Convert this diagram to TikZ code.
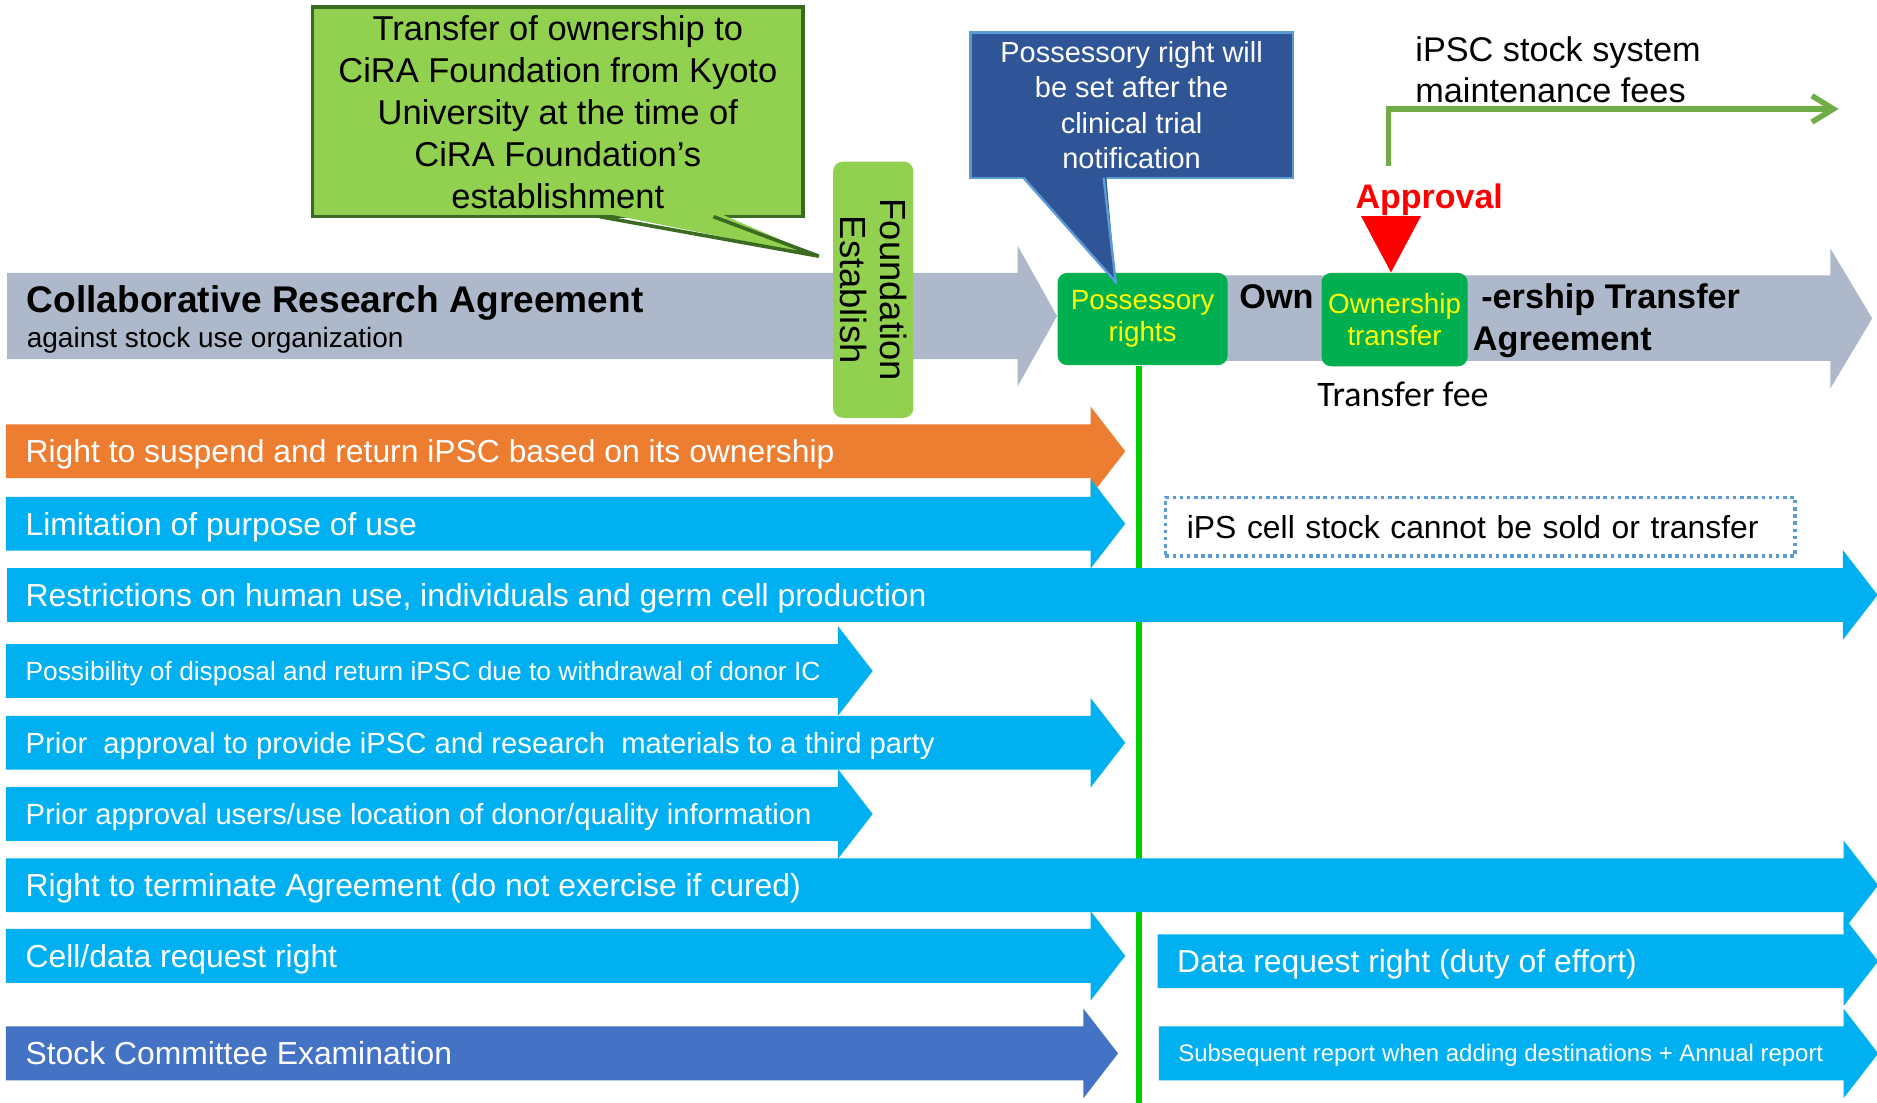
\documentclass[tikz,border=0pt]{standalone}
\usepackage{fontspec}
\setmainfont{Liberation Sans}
\newfontfamily\calibrifont{Carlito}
\usepackage{xcolor}
\usepackage{tikz}
\usetikzlibrary{arrows.meta}

\definecolor{agreegray}{HTML}{ADB9CA}
\definecolor{leafgreen}{HTML}{92D050}
\definecolor{leafdark}{HTML}{3B6B21}
\definecolor{boxgreen}{HTML}{00B050}
\definecolor{boxtext}{HTML}{FFFF00}
\definecolor{navyfill}{HTML}{2F5597}
\definecolor{navyedge}{HTML}{5B9BD5}
\definecolor{orangearr}{HTML}{ED7D31}
\definecolor{cyanarr}{HTML}{00B0F0}
\definecolor{stockblue}{HTML}{4472C4}
\definecolor{linegreen}{HTML}{00CC00}
\definecolor{feegreen}{HTML}{70AD47}
\definecolor{dotblue}{HTML}{5B9BD5}

% block arrow: colour, x start, x of head base, y centre
\newcommand{\blockarrow}[4]{%
  \fill[#1] (#2,#4-22.5) -- (#3,#4-22.5) -- (#3,#4-37.5) -- (#3+29,#4)
    -- (#3,#4+37.5) -- (#3,#4+22.5) -- (#2,#4+22.5) -- cycle;}

\begin{document}
\begin{tikzpicture}[x=0.5pt, y=-0.5pt,
  rowtxt/.style={anchor=base west, inner sep=0pt, text=white, font=\fontsize{13.3}{16}\selectfont},
  gbox/.style={fill=boxgreen, rounded corners=4pt, text=boxtext, align=center, inner sep=0pt,
    font=\fontsize{11.6}{13.5}\selectfont},
  boldtxt/.style={anchor=base west, inner sep=0pt, font=\bfseries\fontsize{14.3}{17}\selectfont}]
\useasboundingbox (0,0) rectangle (1568,921);

% agreement arrows
\fill[agreegray] (6,228) -- (850,228) -- (850,205) -- (883,264) -- (850,323) -- (850,300) -- (6,300) -- cycle;
\fill[agreegray] (940,230) -- (1529,230) -- (1529,207.5) -- (1564,266) -- (1529,324.5) -- (1529,301.5) -- (940,301.5) -- cycle;
\node[anchor=base west, inner sep=0pt, font=\bfseries\fontsize{15.5}{18}\selectfont] (collab) at (22,261) {Collaborative Research Agreement};
\node[anchor=base west, inner sep=0pt, font=\fontsize{11.7}{14}\selectfont] (against) at (22,290) {against stock use organization};

\node[fill=leafgreen, rounded corners=4pt, rotate=-90, minimum width=107pt, minimum height=33.5pt,
  align=center, inner sep=0pt, font=\fontsize{15.2}{16.5}\selectfont] (found) at (729.5,242) {Foundation\\Establish};

% callout over the foundation
\node[draw=leafdark, line width=1.5pt, fill=leafgreen, minimum width=205pt, minimum height=87.5pt,
  align=center, inner sep=0pt, font=\fontsize{14.4}{17.5}\selectfont] (handover) at (466,93.5)
  {Transfer of ownership to\\CiRA Foundation from Kyoto\\University at the time of\\CiRA Foundation’s\\establishment};
\fill[leafgreen] (499,177) -- (684,214) -- (598,177) -- cycle;
\draw[leafdark, line width=1.5pt] (501,181) -- (684,214) -- (596,181);

\node[gbox, minimum width=71pt, minimum height=38.5pt] (poss) at (954.5,266.5) {Possessory\\rights};
\node[gbox, minimum width=61pt, minimum height=39pt] (own) at (1165,267) {Ownership\\transfer};

% callout over possessory rights
\node[draw=navyedge, line width=1pt, fill=navyfill, text=white, minimum width=134.7pt, minimum height=60.75pt,
  align=center, inner sep=0pt, font=\fontsize{12.1}{14.75}\selectfont] (setnote) at (945.3,87.75)
  {Possessory right will\\be set after the\\clinical trial\\notification};
\fill[navyfill] (853,146) -- (932,235.5) -- (924,146) -- cycle;
\draw[navyedge, line width=1pt] (855,148.5) -- (932,235.5) -- (922,148.5);

\node[boldtxt] (ownA) at (1035,258) {Own};
\node[boldtxt] (ownB) at (1237,258) {-ership Transfer};
\node[boldtxt] (ownC) at (1230,293) {Agreement};
\node[anchor=base west, inner sep=0pt, font=\calibrifont\fontsize{15}{18}\selectfont] (fee) at (1100,339.5) {Transfer fee};

\node[anchor=base west, inner sep=0pt, text=red, font=\bfseries\fontsize{14.2}{17}\selectfont] (approval) at (1132,174) {Approval};
\fill[red] ([xshift=-1.5pt]own.north) -- ++(-25,-47) -- ++(50,0) -- cycle;

\node[anchor=west, inner sep=0pt, align=left, font=\fontsize{14.3}{17}\selectfont] (stockfee) at (1182,58) {iPSC stock system\\maintenance fees};
\coordinate (fee0) at (1160,139);
\coordinate (fee1) at (1536,91);
\draw[feegreen, line width=2.3pt, -{Straight Barb[length=9pt,width=11pt]}] (fee0) |- (fee1);

\draw[linegreen, line width=2.5pt] ([xshift=-1.5pt]poss.south) -- +(0,616);

% rights
\blockarrow{orangearr}{5}{911}{377}
\node[rowtxt] (suspend) at (21,386.5) {Right to suspend and return iPSC based on its ownership};
\blockarrow{cyanarr}{5}{911}{437.5}
\node[rowtxt] (purpose) at (21,447) {Limitation of purpose of use};
\blockarrow{cyanarr}{6}{1539.5}{497}
\node[rowtxt] (restrict) at (21,506.5) {Restrictions on human use, individuals and germ cell production};
\blockarrow{cyanarr}{5}{700}{560.5}
\node[rowtxt, font=\fontsize{11}{13}\selectfont] (dispose) at (21,568.4) {Possibility of disposal and return iPSC due to withdrawal of donor IC};
\blockarrow{cyanarr}{5}{911}{620.5}
\node[rowtxt, font=\fontsize{12.2}{14}\selectfont] (thirdparty) at (21,629.2) {Prior\ \ approval to provide iPSC and research\ \ materials to a third party};
\blockarrow{cyanarr}{5}{700}{680}
\node[rowtxt, font=\fontsize{12.2}{14}\selectfont] (donorinfo) at (21,688.7) {Prior approval users/use location of donor/quality information};
\blockarrow{cyanarr}{5}{1540}{739.5}
\node[rowtxt] (terminate) at (21,749) {Right to terminate Agreement (do not exercise if cured)};
\blockarrow{cyanarr}{5}{911}{798.5}
\node[rowtxt] (cellreq) at (21,808) {Cell/data request right};
\blockarrow{stockblue}{5}{905}{880}
\node[rowtxt] (committee) at (21,889.5) {Stock Committee Examination};
\blockarrow{cyanarr}{967}{1540}{803}
\node[rowtxt] (datareq) at (983,812.5) {Data request right (duty of effort)};
\blockarrow{cyanarr}{968}{1540}{880}
\node[rowtxt, font=\fontsize{10}{12}\selectfont] (report) at (984,887) {Subsequent report when adding destinations + Annual report};

\node[draw=dotblue, line width=1.5pt, dash pattern=on 1.5pt off 1.5pt, minimum width=263pt, minimum height=24.5pt,
  text width=245pt, inner xsep=9pt, inner ysep=0pt, align=left, anchor=north west,
  font=\fontsize{13.3}{16}\selectfont] (nosale) at (972,414) {iPS cell stock cannot be sold or transfer};
\end{tikzpicture}
\end{document}
